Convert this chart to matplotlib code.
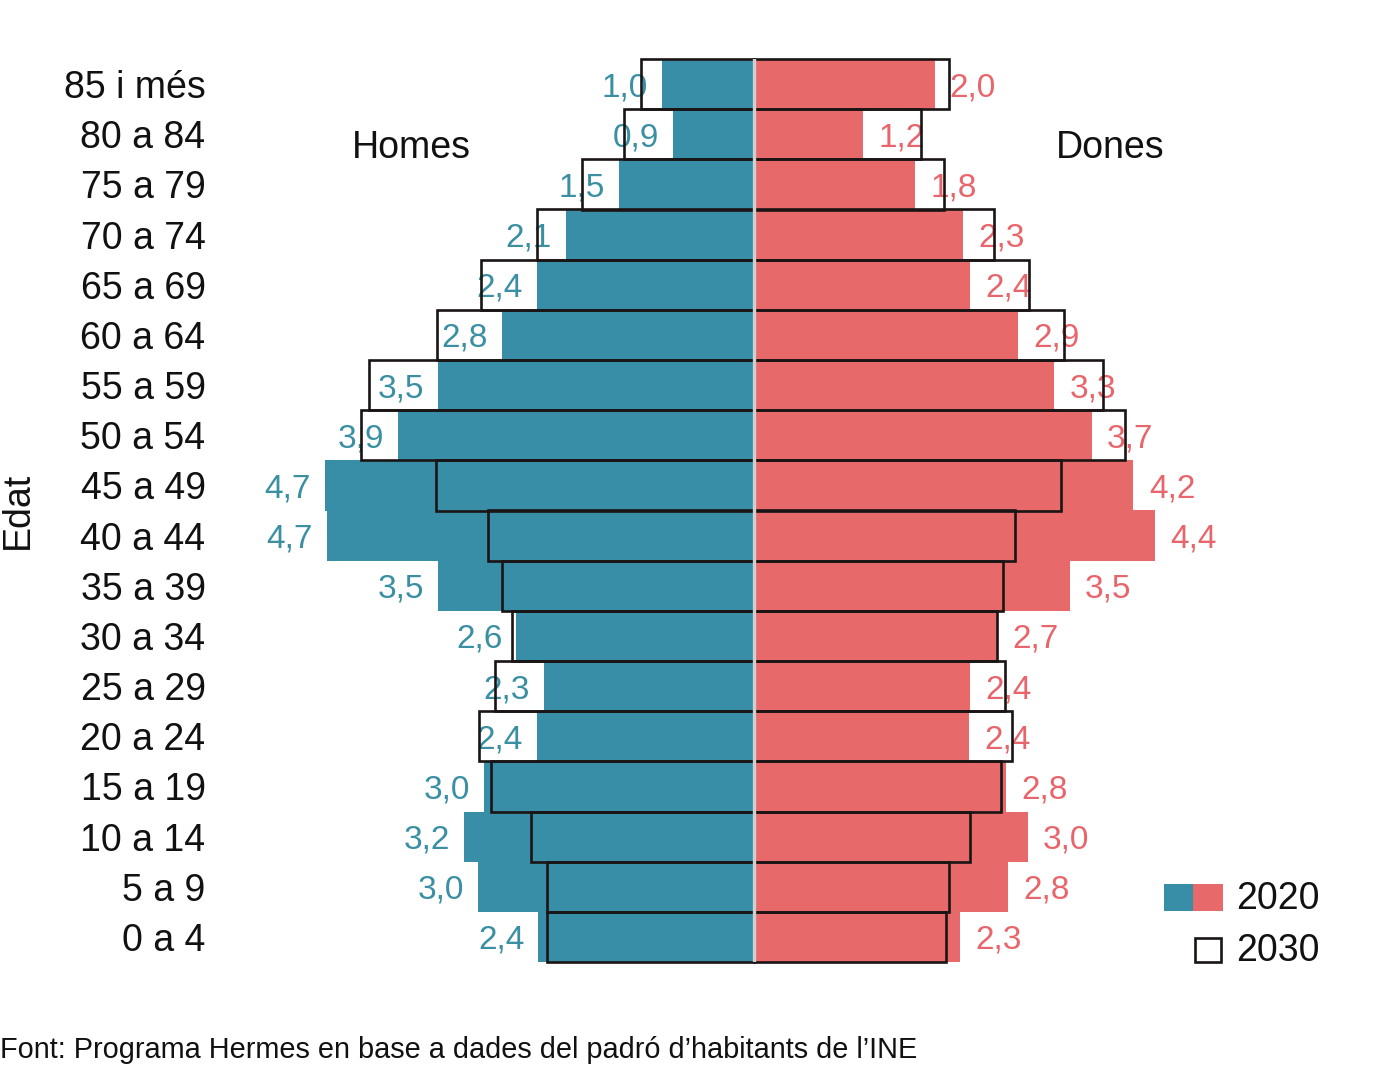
import matplotlib
matplotlib.use("Agg")
import matplotlib.pyplot as plt
from matplotlib.patches import Rectangle

plt.rcParams['font.family'] = ['Liberation Sans', 'DejaVu Sans']

age_groups = ["0 a 4", "5 a 9", "10 a 14", "15 a 19", "20 a 24", "25 a 29",
              "30 a 34", "35 a 39", "40 a 44", "45 a 49", "50 a 54", "55 a 59",
              "60 a 64", "65 a 69", "70 a 74", "75 a 79", "80 a 84", "85 i més"]

homes_2020 = [2.36, 3.02, 3.18, 2.96, 2.38, 2.30, 2.60, 3.46, 4.68, 4.70,
              3.90, 3.46, 2.76, 2.38, 2.06, 1.48, 0.89, 1.01]
homes_2030 = [2.27, 2.27, 2.44, 2.88, 3.01, 2.84, 2.65, 2.76, 2.91, 3.48,
              4.30, 4.22, 3.47, 2.99, 2.37, 1.88, 1.42, 1.24]
dones_2020 = [2.26, 2.79, 3.00, 2.76, 2.36, 2.37, 2.67, 3.46, 4.40, 4.16,
              3.70, 3.29, 2.90, 2.37, 2.29, 1.77, 1.20, 1.98]
dones_2030 = [2.11, 2.14, 2.37, 2.71, 2.83, 2.75, 2.67, 2.73, 2.86, 3.37,
              4.07, 3.83, 3.40, 3.01, 2.63, 2.08, 1.83, 2.14]

TEAL = "#378ea6"
RED = "#e8696a"
TEAL_TXT = "#3a8fa3"
RED_TXT = "#e8666b"
EDGE = "#1a1414"

W, H = 1381, 1092
fig = plt.figure(figsize=(W / 100, H / 100), dpi=100)
ax = fig.add_axes([215.3 / W, (H - 962) / H, 1077 / W, 903 / H])
ax.set_xlim(-5.9, 5.9)
ax.set_ylim(-0.5, len(age_groups) - 0.5)

y = list(range(len(age_groups)))
neg_h20 = [-v for v in homes_2020]
neg_h30 = [-v for v in homes_2030]

ax.barh(y, neg_h20, height=1.0, color=TEAL, zorder=1)
ax.barh(y, dones_2020, height=1.0, color=RED, zorder=1)
ax.barh(y, neg_h30, height=1.0, facecolor="none", edgecolor=EDGE,
        linewidth=1.9, zorder=3, clip_on=False)
ax.barh(y, dones_2030, height=1.0, facecolor="none", edgecolor=EDGE,
        linewidth=1.9, zorder=3, clip_on=False)
ax.axvline(0, color="#cfcfcf", linewidth=2.4, zorder=4)

def fmt(v):
    return f"{v:.1f}".replace(".", ",")

for yi, v in zip(y, homes_2020):
    ax.annotate(fmt(v), xy=(-v, yi), xytext=(-10, -2.5), textcoords="offset points",
                ha="right", va="center", fontsize=24, color=TEAL_TXT, zorder=2)
for yi, v in zip(y, dones_2020):
    ax.annotate(fmt(v), xy=(v, yi), xytext=(11, -2.5), textcoords="offset points",
                ha="left", va="center", fontsize=24, color=RED_TXT, zorder=2)

ax.set_yticks(y)
ax.set_yticklabels(age_groups, fontsize=27, color="#111111")
ax.tick_params(axis="y", length=0, pad=7)
ax.set_xticks([])
for s in ax.spines.values():
    s.set_visible(False)

fig.text(18 / W, 1 - 510 / H, "Edat", rotation=90, ha="center", va="center",
         fontsize=27, color="#111111")
fig.text(411 / W, 1 - 148 / H, "Homes", ha="center", va="center",
         fontsize=27, color="#111111")
fig.text(1110 / W, 1 - 148 / H, "Dones", ha="center", va="center",
         fontsize=27, color="#111111")

# legend
fig.add_artist(Rectangle((1164 / W, 1 - 911 / H), 29 / W, 27 / H,
                         transform=fig.transFigure, facecolor=TEAL, edgecolor="none"))
fig.add_artist(Rectangle((1193 / W, 1 - 911 / H), 30 / W, 27 / H,
                         transform=fig.transFigure, facecolor=RED, edgecolor="none"))
fig.add_artist(Rectangle((1195 / W, 1 - 962 / H), 26 / W, 24 / H,
                         transform=fig.transFigure, facecolor="white",
                         edgecolor=EDGE, linewidth=1.9))
fig.text(1236 / W, 1 - 899 / H, "2020", ha="left", va="center",
         fontsize=27, color="#111111")
fig.text(1236 / W, 1 - 951 / H, "2030", ha="left", va="center",
         fontsize=27, color="#111111")

fig.text(0 / W, 1 - 1050 / H,
         "Font: Programa Hermes en base a dades del padró d\u2019habitants de l\u2019INE",
         ha="left", va="center", fontsize=20.8, color="#111111")

fig.savefig("out.png", dpi=100, facecolor="white")
